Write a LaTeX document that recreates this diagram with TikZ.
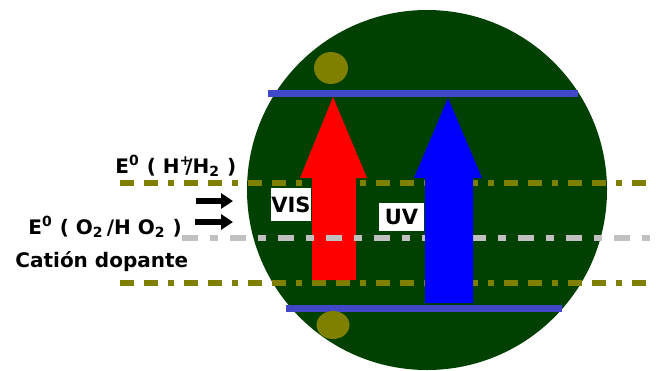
\documentclass[tikz,border=0pt]{standalone}
\usepackage{fontspec}
\setmainfont{DejaVu Sans}
\usepackage{xcolor}
\usepackage{tikz}
\usetikzlibrary{shapes,arrows,positioning,calc,arrows.meta}

\definecolor{verdeosc}{RGB}{0,64,0}
\definecolor{oliva}{RGB}{128,128,0}
\definecolor{azulbanda}{RGB}{64,72,200}
\definecolor{gris}{RGB}{192,192,192}

\begin{document}
\begin{tikzpicture}[x=0.5pt,y=-0.5pt,
    nivel/.style={oliva, line width=3pt, dash pattern=on 7pt off 5pt on 7pt off 5pt on 3pt off 5pt},
    nivelgris/.style={gris, line width=3pt, dash pattern=on 8pt off 6pt on 4pt off 6pt},
    banda/.style={azulbanda, line width=3.5pt},
    caja/.style={fill=white, inner sep=0pt, font=\bfseries\fontsize{10.5}{12}\selectfont},
    texto/.style={inner sep=0pt, anchor=base west, font=\bfseries\fontsize{10}{12}\selectfont},
    flecha/.style={line width=3pt, -{Triangle[length=6pt,width=7.5pt]}}]
    \useasboundingbox (0,0) rectangle (656,370);
    % Particula
    \fill[verdeosc] (427,190) circle (180);
    % Niveles
    \draw[nivel] (120,183) -- (656,183);
    \draw[nivel] (120,283) -- (656,283);
    % Excitacion VIS
    \fill[red] (312,280) -- (312,178) -- (300,178) -- (333,97) -- (367,178)
        -- (356,178) -- (356,280) -- cycle;
    \draw[nivelgris] (182,238) -- (656,238);
    % Excitacion UV
    \fill[blue] (425,303) -- (425,178) -- (414,178) -- (448,98) -- (482,178)
        -- (473,178) -- (473,303) -- cycle;
    % Bandas
    \draw[banda] (268,93.5) -- (578,93.5);
    \draw[banda] (286,308.5) -- (562,308.5);
    \fill[oliva] (331,68) ellipse (17 and 16);
    \fill[oliva] (333,325) ellipse (16.5 and 14);
    % Etiquetas
    \node[caja, minimum width=19pt, minimum height=16.5pt] (vis) at (291,204.5) {VIS};
    \node[caja, minimum width=22.5pt, minimum height=14pt] (uv) at (401.5,217) {UV};
    \node[texto] (hlabel) at (115,173) {E\textsuperscript{0} ( H\textsuperscript{+}\kern-0.35em/H\textsubscript{2} )};
    \node[texto] (olabel) at (28,234) {E\textsuperscript{0} ( O\textsubscript{2}\,/H O\textsubscript{2} )};
    \node[texto] (dopante) at (15,267) {Catión dopante};
    % Flechas
    \coordinate (f1a) at (196,201);
    \coordinate (f1b) at (233,201);
    \coordinate (f2a) at (195,222);
    \coordinate (f2b) at (233,222);
    \draw[flecha] (f1a) -- (f1b);
    \draw[flecha] (f2a) -- (f2b);
\end{tikzpicture}
\end{document}
